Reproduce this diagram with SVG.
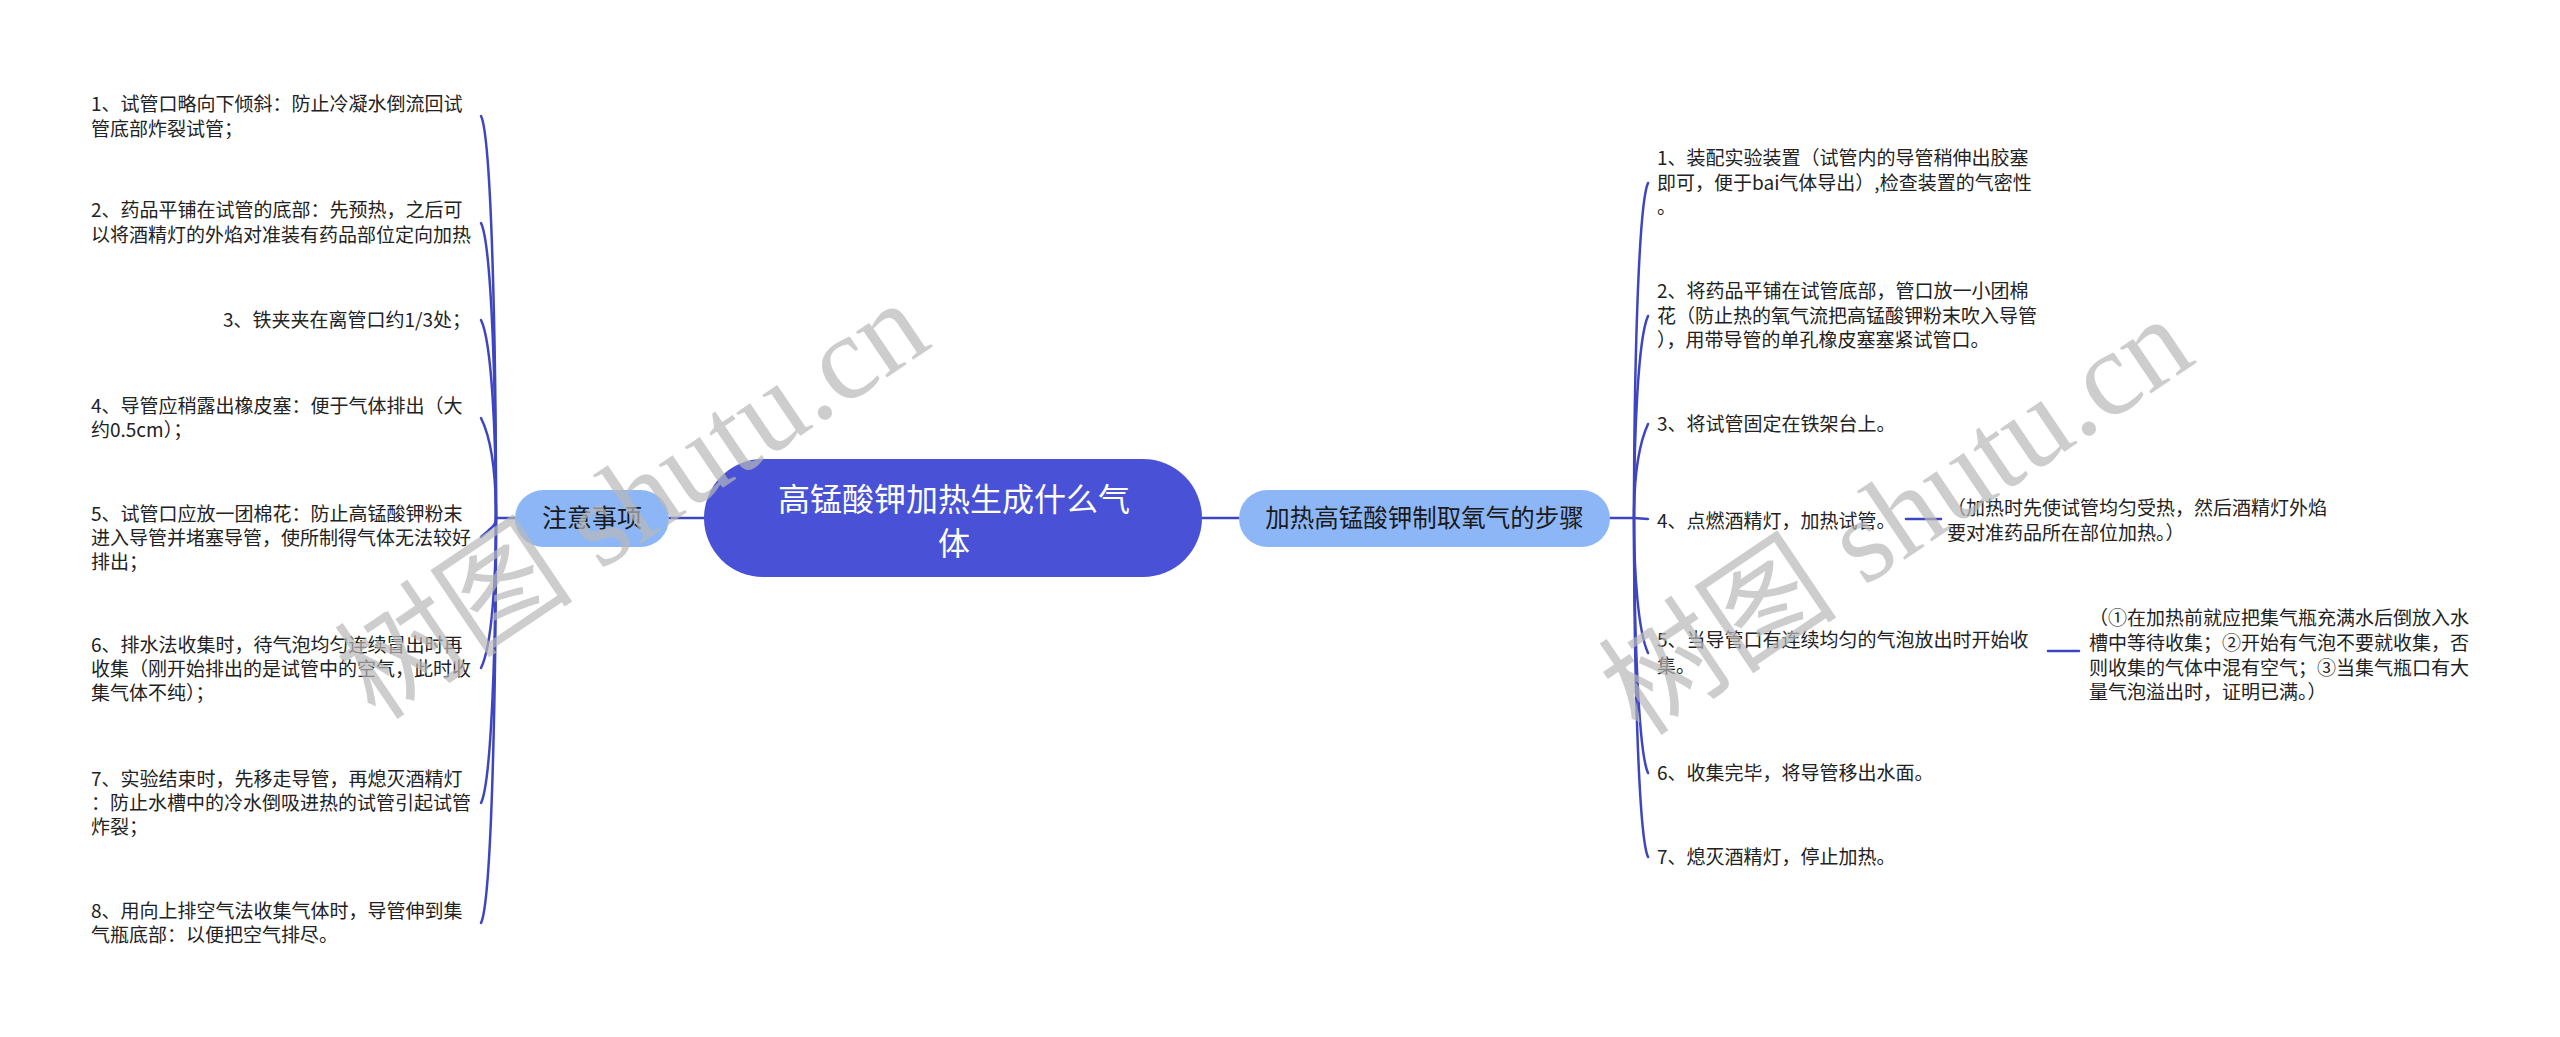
<svg xmlns="http://www.w3.org/2000/svg" width="2560" height="1037" viewBox="0 0 2560 1037">
<style>
  .t{font-family:"Noto Sans CJK SC","Noto Sans",sans-serif;font-size:19px;fill:#222}
  .sub{font-family:"Noto Sans CJK SC","Noto Sans",sans-serif;font-size:24.5px;fill:#1a1a1a;text-anchor:middle}
  .root{font-family:"Noto Sans CJK SC","Noto Sans",sans-serif;font-size:32px;fill:#fff;text-anchor:middle}
  .c{fill:none;stroke:#3d46c0;stroke-width:2.5;stroke-linecap:round}
  .wm{font-family:"Liberation Serif","Noto Sans CJK SC",serif;font-size:120px;fill:#b8b8b8;fill-opacity:0.7}
</style>
<rect width="2560" height="1037" fill="#fff"/>
<g id="connectors">
  <path class="c" d="M669 518 L704 518"/>
  <path class="c" d="M1202 518 L1239 518"/>
  <path class="c" d="M515 518 L496 518"/>
  <path class="c" d="M1610 518 L1634 518"/>
  <path class="c" d="M496 518 C496 357 492 138 481 116"/>
  <path class="c" d="M496 518 C496 400 492 245 481 223"/>
  <path class="c" d="M496 518 C496 439 492 342 481 320"/>
  <path class="c" d="M496 518 C496 478 492 440 481 418"/>
  <path class="c" d="M496 518 C496 526 492 527 481 537"/>
  <path class="c" d="M496 518 C496 578 492 646 481 668"/>
  <path class="c" d="M496 518 C496 632 492 781 481 803"/>
  <path class="c" d="M496 518 C496 680 492 901 481 923"/>
  <path class="c" d="M1634 518 C1634 384 1638 205 1648 183"/>
  <path class="c" d="M1634 518 C1634 437 1638 338 1648 316"/>
  <path class="c" d="M1634 518 C1634 480 1638 446 1648 424"/>
  <path class="c" d="M1634 518 L1648 519"/>
  <path class="c" d="M1634 518 C1634 572 1638 631 1648 653"/>
  <path class="c" d="M1634 518 C1634 620 1638 751 1648 773"/>
  <path class="c" d="M1634 518 C1634 654 1638 835 1648 857"/>
  <path class="c" d="M1906 519 L1941 519"/>
  <path class="c" d="M2048 651 L2079 651"/>
</g>
<g id="root">
  <rect x="704" y="459" width="498" height="118" rx="59" fill="#4952d6"/>
  <text class="root"><tspan x="954" y="511">高锰酸钾加热生成什么气</tspan><tspan x="954" y="555">体</tspan></text>
</g>
<g id="n-zhuyi">
  <rect x="515" y="490" width="154" height="57" rx="28.5" fill="#8db6f7"/>
  <text class="sub" x="592" y="527" style="font-size:25px">注意事项</text>
</g>
<g id="n-buzhou">
  <rect x="1239" y="490" width="371" height="57" rx="28.5" fill="#8db6f7"/>
  <text class="sub" x="1424.5" y="527">加热高锰酸钾制取氧气的步骤</text>
</g>
<g id="l1"><text class="t"><tspan x="91" y="111">1、试管口略向下倾斜：防止冷凝水倒流回试</tspan><tspan x="91" y="136">管底部炸裂试管；</tspan></text></g>
<g id="l2"><text class="t"><tspan x="91" y="217">2、药品平铺在试管的底部：先预热，之后可</tspan><tspan x="91" y="242">以将酒精灯的外焰对准装有药品部位定向加热</tspan></text></g>
<g id="l3"><text class="t" x="471" y="327" text-anchor="end">3、铁夹夹在离管口约1/3处；</text></g>
<g id="l4"><text class="t"><tspan x="91" y="413">4、导管应稍露出橡皮塞：便于气体排出（大</tspan><tspan x="91" y="437">约0.5cm）；</tspan></text></g>
<g id="l5"><text class="t"><tspan x="91" y="521">5、试管口应放一团棉花：防止高锰酸钾粉末</tspan><tspan x="91" y="545">进入导管并堵塞导管，使所制得气体无法较好</tspan><tspan x="91" y="569">排出；</tspan></text></g>
<g id="l6"><text class="t"><tspan x="91" y="652">6、排水法收集时，待气泡均匀连续冒出时再</tspan><tspan x="91" y="676">收集（刚开始排出的是试管中的空气，此时收</tspan><tspan x="91" y="700">集气体不纯）；</tspan></text></g>
<g id="l7"><text class="t"><tspan x="91" y="786">7、实验结束时，先移走导管，再熄灭酒精灯</tspan><tspan x="91" y="810">：防止水槽中的冷水倒吸进热的试管引起试管</tspan><tspan x="91" y="834">炸裂；</tspan></text></g>
<g id="l8"><text class="t"><tspan x="91" y="918">8、用向上排空气法收集气体时，导管伸到集</tspan><tspan x="91" y="942">气瓶底部：以便把空气排尽。</tspan></text></g>
<g id="r1"><text class="t"><tspan x="1657" y="165">1、装配实验装置（试管内的导管稍伸出胶塞</tspan><tspan x="1657" y="190">即可，便于bai气体导出）,检查装置的气密性</tspan><tspan x="1657" y="214">。</tspan></text></g>
<g id="r2"><text class="t"><tspan x="1657" y="298">2、将药品平铺在试管底部，管口放一小团棉</tspan><tspan x="1657" y="323">花（防止热的氧气流把高锰酸钾粉末吹入导管</tspan><tspan x="1657" y="347">），用带导管的单孔橡皮塞塞紧试管口。</tspan></text></g>
<g id="r3"><text class="t" x="1657" y="431">3、将试管固定在铁架台上。</text></g>
<g id="r4"><text class="t" x="1657" y="528">4、点燃酒精灯，加热试管。</text></g>
<g id="r4s"><text class="t"><tspan x="1947" y="515">（加热时先使试管均匀受热，然后酒精灯外焰</tspan><tspan x="1947" y="540">要对准药品所在部位加热。）</tspan></text></g>
<g id="r5"><text class="t"><tspan x="1657" y="647">5、当导管口有连续均匀的气泡放出时开始收</tspan><tspan x="1657" y="673">集。</tspan></text></g>
<g id="r5s"><text class="t"><tspan x="2089" y="625">（①在加热前就应把集气瓶充满水后倒放入水</tspan><tspan x="2089" y="650">槽中等待收集；②开始有气泡不要就收集，否</tspan><tspan x="2089" y="675">则收集的气体中混有空气；③当集气瓶口有大</tspan><tspan x="2089" y="699">量气泡溢出时，证明已满。）</tspan></text></g>
<g id="r6"><text class="t" x="1657" y="780">6、收集完毕，将导管移出水面。</text></g>
<g id="r7"><text class="t" x="1657" y="864">7、熄灭酒精灯，停止加热。</text></g>
<g id="watermark">
  <text class="wm" transform="translate(376,722) rotate(-34)">树图 shutu.cn</text>
  <text class="wm" transform="translate(1640,738) rotate(-34)">树图 shutu.cn</text>
</g>
</svg>
